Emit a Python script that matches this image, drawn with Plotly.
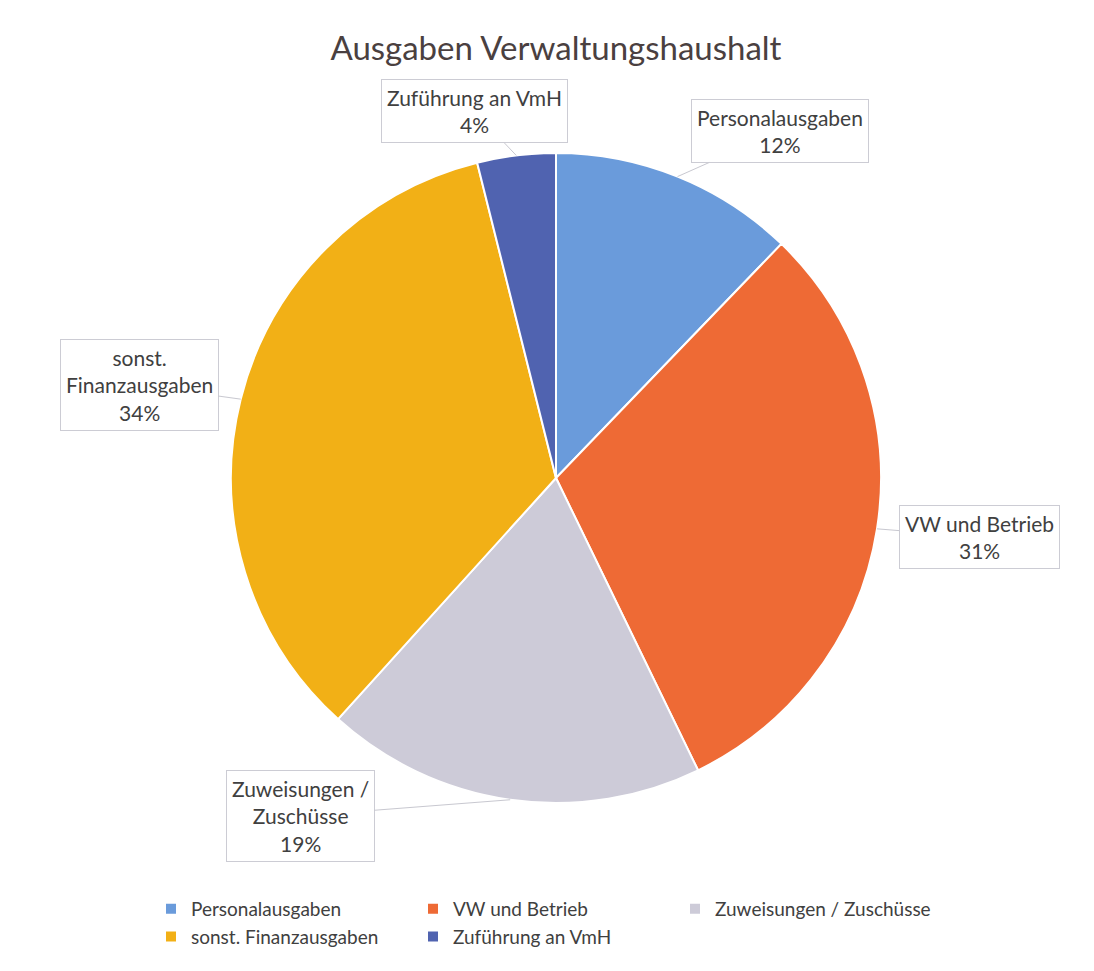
import math
import plotly.graph_objects as go

categories = ["Personalausgaben", "VW und Betrieb", "Zuweisungen / Zuschüsse",
              "sonst. Finanzausgaben", "Zuführung an VmH"]
label_texts = ["Personalausgaben", "VW und Betrieb", "Zuweisungen /<br>Zuschüsse",
               "sonst.<br>Finanzausgaben", "Zuführung an VmH"]
values = [12.2, 30.6, 18.9, 34.4, 3.9]
colors = ["#6A9BDB", "#EE6A35", "#CDCBD8", "#F2B016", "#5063B0"]

W, H = 1094, 971
OFF = 8  # page body margin
ML, MR, MT, MB = 0, 200, 0, 0
PW, PH = W - ML - MR, H - MT - MB
FONT = "Lato"
TXT = "#404040"

def px(x):
    return (x - OFF - ML) / PW

def py(y):
    return 1 - (y - OFF - MT) / PH

# pie placement (page pixels)
cx, cy, R = 556, 478, 325
dom_x = [px(cx - R), px(cx + R)]
dom_y = [py(cy + R), py(cy - R)]

fig = go.Figure(go.Pie(
    labels=categories, values=values, sort=False, direction="clockwise",
    rotation=0, marker=dict(colors=colors, line=dict(color="white", width=2)),
    textinfo="none", hoverinfo="label+percent", domain=dict(x=dom_x, y=dom_y),
))

# callout box centres (page pixels)
box_centres = [(780, 131), (979, 537), (300, 816), (139, 385), (474, 111)]

total = sum(values)
cum = 0.0
for i, v in enumerate(values):
    mid = (cum + v / 2) / total * 2 * math.pi
    cum += v
    tx = cx + R * math.sin(mid)
    ty = cy - R * math.cos(mid)
    bx, by = box_centres[i]
    pct = round(v / total * 100)
    fig.add_annotation(
        x=px(tx), y=py(ty), xref="paper", yref="paper",
        ax=bx - tx, ay=by - ty, axref="pixel", ayref="pixel",
        text=f"{label_texts[i]}<br>{pct}%", showarrow=True, arrowhead=0,
        arrowcolor="#C8C8D0", arrowwidth=1,
        font=dict(family=FONT, size=21, color=TXT),
        bgcolor="white", bordercolor="#CCCCD4", borderwidth=1, borderpad=5,
        align="center",
    )

fig.update_layout(
    width=W, height=H,
    margin=dict(l=ML, r=MR, t=MT, b=MB, autoexpand=False),
    paper_bgcolor="white", plot_bgcolor="white",
    title=dict(text="Ausgaben Verwaltungshaushalt", xref="container", yref="container",
               x=(556 - OFF) / W, xanchor="center",
               y=1 - (48 - OFF) / H, yanchor="middle",
               font=dict(family=FONT, size=33, color="#4a4040")),
    showlegend=True,
    legend=dict(orientation="h", x=px(151), xanchor="left", y=py(890),
                yanchor="top", entrywidth=217, entrywidthmode="pixels",
                font=dict(family=FONT, size=19, color=TXT),
                itemwidth=30, tracegroupgap=0),
)

fig.write_html("out.html")
